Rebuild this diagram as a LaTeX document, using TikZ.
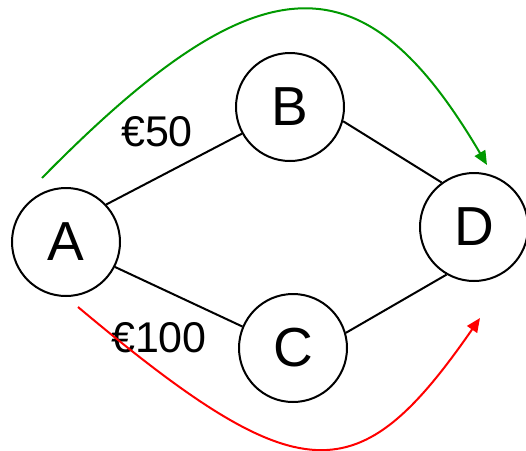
\documentclass[tikz,border=0pt]{standalone}
\usepackage{fontspec}
\setmainfont{Liberation Sans}
\usetikzlibrary{arrows.meta}
\begin{document}
\begin{tikzpicture}[x=1pt, y=-1pt, line width=2pt,
		place/.style={draw, circle, inner sep=0pt, minimum size=108pt, font=\fontsize{55}{55}\selectfont},
		cost/.style={font=\fontsize{43}{43}\selectfont},
		route/.style={-{Triangle[length=14pt, width=12pt]}}]
			\useasboundingbox (0,0) rectangle (526,450);
			\node[place] (A) at (66, 242) {A};
			\node[place] (B) at (290, 107) {B};
			\node[place] (C) at (293, 348) {C};
			\node[place] (D) at (474, 227) {D};
			\node[cost] (ab) at (157, 132) {€50};
			\node[cost] (ac) at (159, 338) {€100};
			\coordinate (g) at (42, 178);
			\coordinate (g') at (487, 165);
			\coordinate (r) at (78, 307);
			\coordinate (r') at (480, 318);
			\draw (A.43) -- (B.209);
			\draw (B.345) -- (D.126);
			\draw (A.333) -- (C.157);
			\draw (C.16) -- (D.240);
			\draw[route, color={rgb,255:red,0;green,153;blue,0}] (g) .. controls (260, -44) and (364, -44) .. (g');
			\draw[route, red] (r) .. controls (301, 494) and (358, 494) .. (r');
		\end{tikzpicture}
\end{document}
